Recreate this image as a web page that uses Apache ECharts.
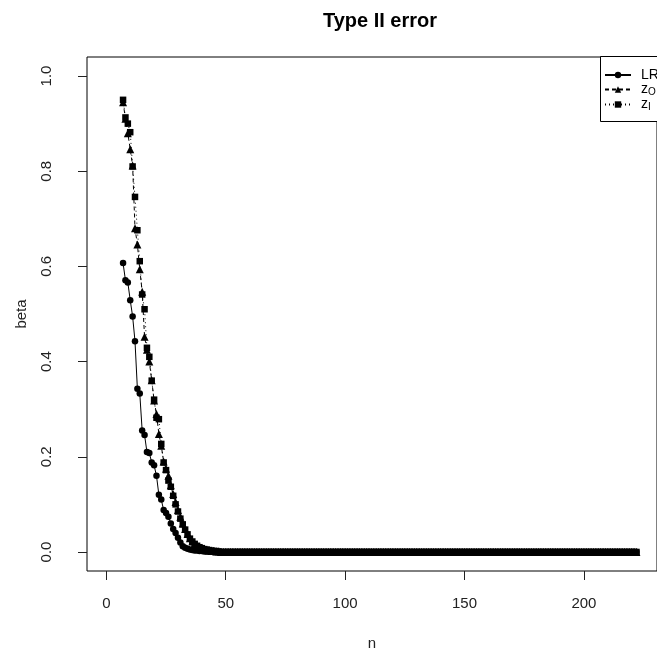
<!DOCTYPE html>
<html>
<head>
<meta charset="utf-8">
<title>Type II error</title>
<script src="https://cdn.jsdelivr.net/npm/echarts@6/dist/echarts.min.js"></script>
<style>
  html, body { margin: 0; padding: 0; background: #fff; }
  #main { width: 657px; height: 656px; }
</style>
</head>
<body>
<div id="main"></div>
<script>
// sample sizes n = 7 .. 222, one point per n
const nFirst = 7
const nLast = 222
const nValues = []
for (let n = nFirst; n <= nLast; n++) nValues.push(n)

// beta for n = 7 .. 47
const lrHead = [
  0.607, 0.571, 0.566, 0.529, 0.495, 0.443, 0.343, 0.333, 0.255, 0.246,
  0.210, 0.208, 0.188, 0.182, 0.160, 0.120, 0.110, 0.088, 0.082, 0.074,
  0.060, 0.048, 0.040, 0.030, 0.020, 0.012, 0.009, 0.007, 0.005, 0.004,
  0.003, 0.003, 0.002, 0.002, 0.001, 0.001, 0.001, 0.001, 0.000, 0.000,
  0.000
]
const zoHead = [
  0.945, 0.910, 0.880, 0.846, 0.812, 0.680, 0.646, 0.594, 0.547, 0.452,
  0.425, 0.400, 0.361, 0.318, 0.290, 0.248, 0.223, 0.190, 0.175, 0.160,
  0.140, 0.122, 0.105, 0.088, 0.074, 0.060, 0.048, 0.038, 0.029, 0.022,
  0.017, 0.012, 0.009, 0.007, 0.005, 0.004, 0.003, 0.002, 0.002, 0.001,
  0.001
]
const ziHead = [
  0.950, 0.913, 0.900, 0.882, 0.810, 0.746, 0.676, 0.611, 0.541, 0.510,
  0.429, 0.410, 0.360, 0.320, 0.282, 0.279, 0.227, 0.188, 0.172, 0.150,
  0.137, 0.118, 0.100, 0.085, 0.070, 0.058, 0.047, 0.037, 0.028, 0.022,
  0.017, 0.013, 0.010, 0.008, 0.006, 0.005, 0.004, 0.003, 0.002, 0.002,
  0.001
]
// n = 48 .. 222: all three tests sit on zero
const tailBeta = [
  0, 0, 0, 0, 0, 0, 0, 0, 0, 0, 0, 0, 0, 0, 0, 0, 0, 0, 0, 0, 0, 0, 0, 0, 0,
  0, 0, 0, 0, 0, 0, 0, 0, 0, 0, 0, 0, 0, 0, 0, 0, 0, 0, 0, 0, 0, 0, 0, 0, 0,
  0, 0, 0, 0, 0, 0, 0, 0, 0, 0, 0, 0, 0, 0, 0, 0, 0, 0, 0, 0, 0, 0, 0, 0, 0,
  0, 0, 0, 0, 0, 0, 0, 0, 0, 0, 0, 0, 0, 0, 0, 0, 0, 0, 0, 0, 0, 0, 0, 0, 0,
  0, 0, 0, 0, 0, 0, 0, 0, 0, 0, 0, 0, 0, 0, 0, 0, 0, 0, 0, 0, 0, 0, 0, 0, 0,
  0, 0, 0, 0, 0, 0, 0, 0, 0, 0, 0, 0, 0, 0, 0, 0, 0, 0, 0, 0, 0, 0, 0, 0, 0,
  0, 0, 0, 0, 0, 0, 0, 0, 0, 0, 0, 0, 0, 0, 0, 0, 0, 0, 0, 0, 0, 0, 0, 0, 0
]

const xTicks = [0, 50, 100, 150, 200]
const yTicks = [0, 0.2, 0.4, 0.6, 0.8, 1.0]

const FONT = "'Liberation Sans', Arial, sans-serif"

function pairUp(values) {
  return values.map((v, i) => [nValues[i], v])
}

const chart = echarts.init(document.getElementById('main'))

chart.setOption({
  animation: false,
  backgroundColor: '#fff',
  textStyle: { fontFamily: FONT },
  title: {
    text: 'Type II error',
    left: 375,
    textAlign: 'center',
    top: 6,
    textStyle: { fontFamily: FONT, fontSize: 20, fontWeight: 'bold', color: '#000' }
  },
  grid: {
    show: true,
    left: 87,
    top: 57,
    width: 577,
    height: 515,
    borderColor: '#000',
    borderWidth: 1,
    containLabel: false
  },
  xAxis: {
    type: 'value',
    min: -8.1,
    max: 230.6,
    name: 'n',
    nameLocation: 'middle',
    nameGap: 65,
    nameTextStyle: { fontFamily: FONT, fontSize: 15, color: '#222' },
    axisLine: { show: false, onZero: false },
    splitLine: { show: false },
    axisTick: { show: true, length: 9, customValues: xTicks, lineStyle: { color: '#222' } },
    axisLabel: { customValues: xTicks, margin: 25, fontFamily: FONT, fontSize: 15, color: '#222' }
  },
  yAxis: {
    type: 'value',
    min: -0.04,
    max: 1.04,
    name: 'beta',
    nameLocation: 'middle',
    nameRotate: 90,
    nameGap: 58,
    nameTextStyle: { fontFamily: FONT, fontSize: 15, color: '#222' },
    axisLine: { show: false, onZero: false },
    splitLine: { show: false },
    axisTick: { show: true, length: 9, customValues: yTicks, lineStyle: { color: '#222' } },
    axisLabel: {
      customValues: yTicks,
      rotate: 90,
      margin: 33,
      fontFamily: FONT,
      fontSize: 15,
      color: '#222',
      formatter: v => v.toFixed(1)
    }
  },
  legend: {
    orient: 'vertical',
    left: 599,
    top: 63,
    itemWidth: 26,
    itemHeight: 8,
    itemGap: 0,
    z: 20,
    data: ['LR', 'zO', 'zI'],
    formatter: name => {
      if (name === 'zO') return 'z{s|O}'
      if (name === 'zI') return 'z{s|I}'
      return name
    },
    textStyle: {
      fontFamily: FONT,
      fontSize: 14,
      lineHeight: 14,
      color: '#000',
      padding: [0, 0, 0, 5],
      rich: {
        s: { fontFamily: FONT, fontSize: 10, lineHeight: 14, color: '#000', padding: [5, 0, 0, 0] }
      }
    }
  },
  graphic: [
    {
      type: 'rect',
      z: 15,
      shape: { x: 600.5, y: 56.5, width: 100, height: 65 },
      style: { fill: '#fff', stroke: '#000', lineWidth: 1 }
    }
  ],
  series: [
    {
      name: 'LR',
      type: 'line',
      data: pairUp(lrHead.concat(tailBeta)),
      symbol: 'circle',
      symbolSize: 6.5,
      showSymbol: true,
      itemStyle: { color: '#000' },
      lineStyle: { color: '#000', width: 1, type: 'solid' }
    },
    {
      name: 'zO',
      type: 'line',
      data: pairUp(zoHead.concat(tailBeta)),
      symbol: 'triangle',
      symbolSize: 8,
      showSymbol: true,
      itemStyle: { color: '#000' },
      lineStyle: { color: '#000', width: 1, type: [4, 3] }
    },
    {
      name: 'zI',
      type: 'line',
      data: pairUp(ziHead.concat(tailBeta)),
      symbol: 'rect',
      symbolSize: 6.5,
      showSymbol: true,
      itemStyle: { color: '#000' },
      lineStyle: { color: '#000', width: 1, type: [1, 3] }
    }
  ]
})
</script>
</body>
</html>
